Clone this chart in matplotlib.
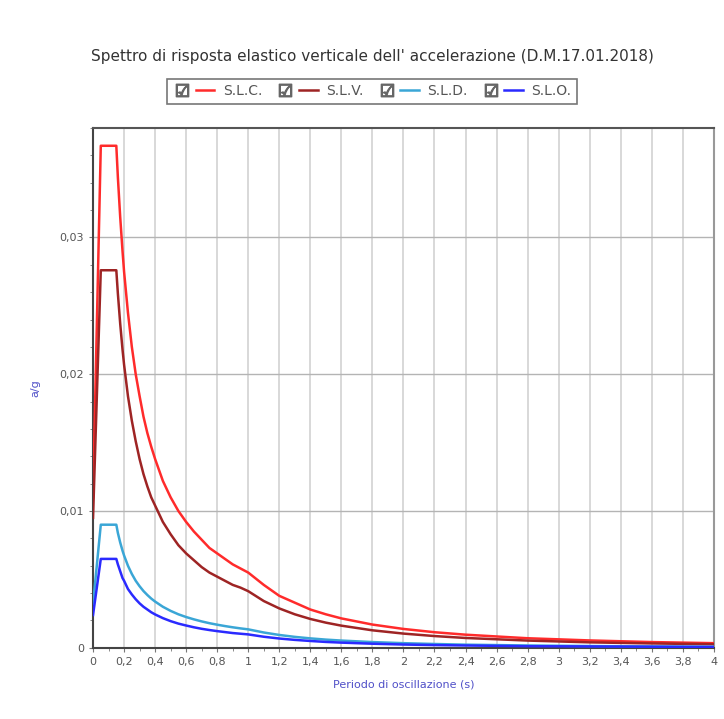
import numpy as np
import matplotlib.pyplot as plt
from matplotlib.lines import Line2D
from matplotlib.legend_handler import HandlerTuple
from matplotlib.ticker import MultipleLocator, FuncFormatter

# periodi (s) e valori (a/g)
periodi = [0, 0.05, 0.15, 0.16, 0.175, 0.19, 0.2, 0.225, 0.25, 0.275, 0.3, 0.325, 0.35,
           0.375, 0.4, 0.45, 0.5, 0.55, 0.6, 0.65, 0.7, 0.75, 0.8, 0.85, 0.9, 0.95, 1.0,
           1.1, 1.2, 1.3, 1.4, 1.5, 1.6, 1.8, 2.0, 2.2, 2.4, 2.8, 3.2, 3.6, 4.0]

slc = [0.0110, 0.0367, 0.0367, 0.0344, 0.0315, 0.0290, 0.0275, 0.0245, 0.0220, 0.0200,
       0.0184, 0.0169, 0.0157, 0.0147, 0.0138, 0.0122, 0.0110, 0.0100, 0.0092, 0.0085,
       0.0079, 0.0073, 0.0069, 0.0065, 0.0061, 0.0058, 0.0055, 0.0046, 0.0038, 0.0033,
       0.0028, 0.00245, 0.00215, 0.0017, 0.00138, 0.00114, 0.00096, 0.0007, 0.00054,
       0.00042, 0.00034]
slv = [0.0095, 0.0276, 0.0276, 0.0259, 0.0237, 0.0218, 0.0207, 0.0184, 0.0166, 0.0151,
       0.0138, 0.0127, 0.0118, 0.0110, 0.0104, 0.0092, 0.0083, 0.0075, 0.0069, 0.0064,
       0.0059, 0.0055, 0.0052, 0.0049, 0.0046, 0.0044, 0.00414, 0.00342, 0.00288, 0.00245,
       0.00211, 0.00184, 0.00162, 0.00128, 0.00104, 0.00086, 0.00072, 0.00053, 0.0004,
       0.00032, 0.00026]
sld = [0.0032, 0.0090, 0.0090, 0.0084, 0.0077, 0.0071, 0.00675, 0.0060, 0.0054, 0.0049,
       0.0045, 0.00415, 0.00386, 0.0036, 0.00338, 0.0030, 0.0027, 0.00245, 0.00225, 0.00208,
       0.00193, 0.0018, 0.00169, 0.00159, 0.0015, 0.00142, 0.00135, 0.00112, 0.00094,
       0.0008, 0.00069, 0.0006, 0.00053, 0.00042, 0.00034, 0.00028, 0.00023, 0.00017,
       0.00013, 0.0001, 0.00008]
slo = [0.0024, 0.0065, 0.0065, 0.0061, 0.0056, 0.0051, 0.0049, 0.0043, 0.0039, 0.00355,
       0.00325, 0.003, 0.0028, 0.0026, 0.00244, 0.00217, 0.00195, 0.00177, 0.00163, 0.0015,
       0.00139, 0.0013, 0.00122, 0.00115, 0.00108, 0.00103, 0.00098, 0.00081, 0.00068,
       0.00058, 0.0005, 0.00043, 0.00038, 0.0003, 0.00024, 0.0002, 0.00017, 0.00012,
       0.0001, 0.00008, 0.00006]

nomi = ['S.L.C.', 'S.L.V.', 'S.L.D.', 'S.L.O.']
serie = [slc, slv, sld, slo]
colori = ['#ff2b2b', '#9e2424', '#3aa6d6', '#2a2aff']

fig = plt.figure(figsize=(7.24, 7.19), dpi=100)
ax = fig.add_axes([0.1285, 0.099, 0.8575, 0.723])

linee = []
for nome, val, col in zip(nomi, serie, colori):
    l, = ax.plot(periodi, val, color=col, lw=1.8, label=nome, zorder=3)
    linee.append(l)

ax.set_xlim(0, 4)
ax.set_ylim(0, 0.038)

ax.xaxis.set_major_locator(MultipleLocator(0.2))
ax.xaxis.set_minor_locator(MultipleLocator(0.1))
ax.yaxis.set_major_locator(MultipleLocator(0.01))
ax.yaxis.set_minor_locator(MultipleLocator(0.002))

def fmt(v, pos):
    s = ('%.2f' % v).rstrip('0').rstrip('.')
    return s.replace('.', ',')

ax.xaxis.set_major_formatter(FuncFormatter(fmt))
ax.yaxis.set_major_formatter(FuncFormatter(fmt))

ax.tick_params(which='both', direction='out', colors='#777777', labelcolor='#555555',
               labelsize=8)
ax.tick_params(which='major', length=3)
ax.tick_params(which='minor', length=2)

ax.grid(axis='x', which='major', color='#d6d6d6', lw=1.3)
ax.grid(axis='y', which='major', color='#b4b4b4', lw=1.0)

for s in ax.spines.values():
    s.set_color('#444444')
    s.set_linewidth(1.5)
ax.spines['right'].set_color('#999999')
ax.spines['top'].set_color('#555555')

ax.set_xlabel('Periodo di oscillazione (s)', color='#5050c8', fontsize=8, labelpad=9)
ax.set_ylabel('a/g', color='#5050c8', fontsize=8, labelpad=14)

fig.text(0.514, 0.921, "Spettro di risposta elastico verticale dell' accelerazione (D.M.17.01.2018)",
         ha='center', va='center', fontsize=11, color='#333333')

# legenda con caselle di spunta
caselle = [Line2D([], [], ls='none', marker='$\u2611$', markersize=9,
                  color='#666666') for _ in nomi]
maniglie = [(c, l) for c, l in zip(caselle, linee)]
leg = fig.legend(maniglie, nomi, loc='center', bbox_to_anchor=(0.514, 0.873), ncol=4,
                 handler_map={tuple: HandlerTuple(ndivide=None, pad=0.3)},
                 handlelength=3.0, handletextpad=0.6, columnspacing=1.0,
                 fontsize=10, frameon=True, fancybox=False, shadow=False,
                 borderpad=0.4)
leg.get_frame().set_edgecolor('#555555')
leg.get_frame().set_linewidth(1.2)
for t in leg.get_texts():
    t.set_color('#555555')

fig.savefig('out.png', dpi=100)
